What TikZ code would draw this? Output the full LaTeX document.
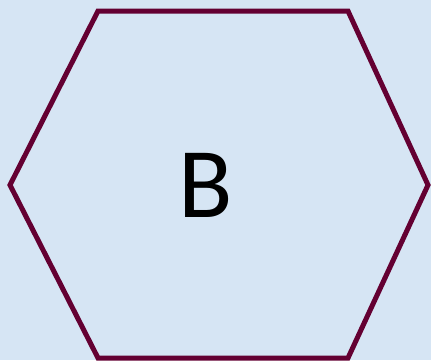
\documentclass[tikz,border=0pt]{standalone}
\usepackage{fontspec}
\setmainfont{Carlito}
\definecolor{paleblue}{RGB}{214,229,244}
\definecolor{wine}{RGB}{100,0,50}

\begin{document}
\begin{tikzpicture}[line width=5pt, line join=miter, x=1pt, y=-1pt]
  \fill[paleblue] (0,0) rectangle (431,360);
  \useasboundingbox (0,0) rectangle (431,360);
  \draw[wine] (98,11) -- (348,11) -- (428,185) -- (348,358) -- (98,358) -- (10,185) -- cycle;
  \node[font=\fontsize{100}{100}\selectfont] (letter) at (206,185) {B};
\end{tikzpicture}
\end{document}
